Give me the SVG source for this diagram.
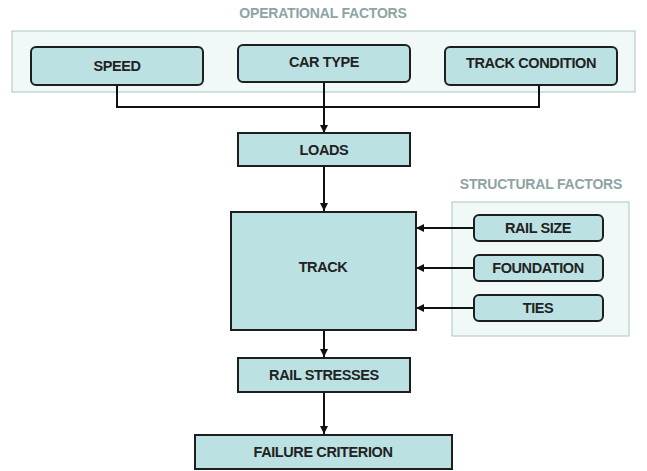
<svg xmlns="http://www.w3.org/2000/svg" width="647" height="471" viewBox="0 0 647 471">
<style>
.bg{fill:#fff}
.grp{fill:#f0f8f8;stroke:#a9c5c6;stroke-width:1}
.box{fill:#bce1e3;stroke:#1e1e1e;stroke-width:2}
.t{font-family:"Liberation Sans",Arial,sans-serif;font-weight:bold;font-size:14.5px;letter-spacing:-0.4px;fill:#222;text-anchor:middle;dominant-baseline:central}
.h{font-family:"Liberation Sans",Arial,sans-serif;font-weight:bold;font-size:14px;letter-spacing:-0.2px;fill:#8da4a5;text-anchor:middle;dominant-baseline:central}
.c{fill:none;stroke:#111;stroke-width:2}
</style>
<defs>
<marker id="ah" viewBox="0 0 10 10" refX="10" refY="5" markerWidth="4" markerHeight="4" orient="auto" markerUnits="strokeWidth">
<path d="M0,0 L10,5 L0,10 z" fill="#111"/>
</marker>
</defs>
<rect class="bg" x="0" y="0" width="647" height="471"/>
<g id="operational-factors">
<text class="h" x="323" y="13">OPERATIONAL FACTORS</text>
<rect class="grp" x="12" y="31" width="623" height="61"/>
</g>
<g id="structural-factors">
<text class="h" x="541" y="184">STRUCTURAL FACTORS</text>
<rect class="grp" x="452" y="202" width="177" height="134"/>
</g>
<g id="connectors">
<path class="c" d="M117,85 V107 H539 V85"/>
<path class="c" d="M324,82 V133" marker-end="url(#ah)"/>
<path class="c" d="M324,166 V211" marker-end="url(#ah)"/>
<path class="c" d="M474,228 H416" marker-end="url(#ah)"/>
<path class="c" d="M474,268 H416" marker-end="url(#ah)"/>
<path class="c" d="M474,308 H416" marker-end="url(#ah)"/>
<path class="c" d="M324,330 V357" marker-end="url(#ah)"/>
<path class="c" d="M324,392 V434" marker-end="url(#ah)"/>
</g>
<g id="speed"><rect class="box" x="31" y="47" width="172" height="38" rx="5"/><text class="t" x="117" y="66">SPEED</text></g>
<g id="car-type"><rect class="box" x="238" y="45" width="172" height="37" rx="5"/><text class="t" x="324" y="62">CAR TYPE</text></g>
<g id="track-condition"><rect class="box" x="445" y="47" width="172" height="38" rx="5"/><text class="t" x="531" y="63">TRACK CONDITION</text></g>
<g id="loads"><rect class="box" x="238" y="133" width="172" height="33"/><text class="t" x="324" y="150">LOADS</text></g>
<g id="track"><rect class="box" x="231" y="212" width="185" height="118"/><text class="t" x="323" y="267">TRACK</text></g>
<g id="rail-size"><rect class="box" x="474" y="215" width="129" height="26" rx="5"/><text class="t" x="538" y="228">RAIL SIZE</text></g>
<g id="foundation"><rect class="box" x="474" y="255" width="129" height="26" rx="5"/><text class="t" x="538" y="268">FOUNDATION</text></g>
<g id="ties"><rect class="box" x="474" y="295" width="129" height="26" rx="5"/><text class="t" x="538" y="308">TIES</text></g>
<g id="rail-stresses"><rect class="box" x="238" y="358" width="172" height="34"/><text class="t" x="324" y="375">RAIL STRESSES</text></g>
<g id="failure-criterion"><rect class="box" x="195" y="435" width="257" height="34"/><text class="t" x="323" y="452">FAILURE CRITERION</text></g>
</svg>
